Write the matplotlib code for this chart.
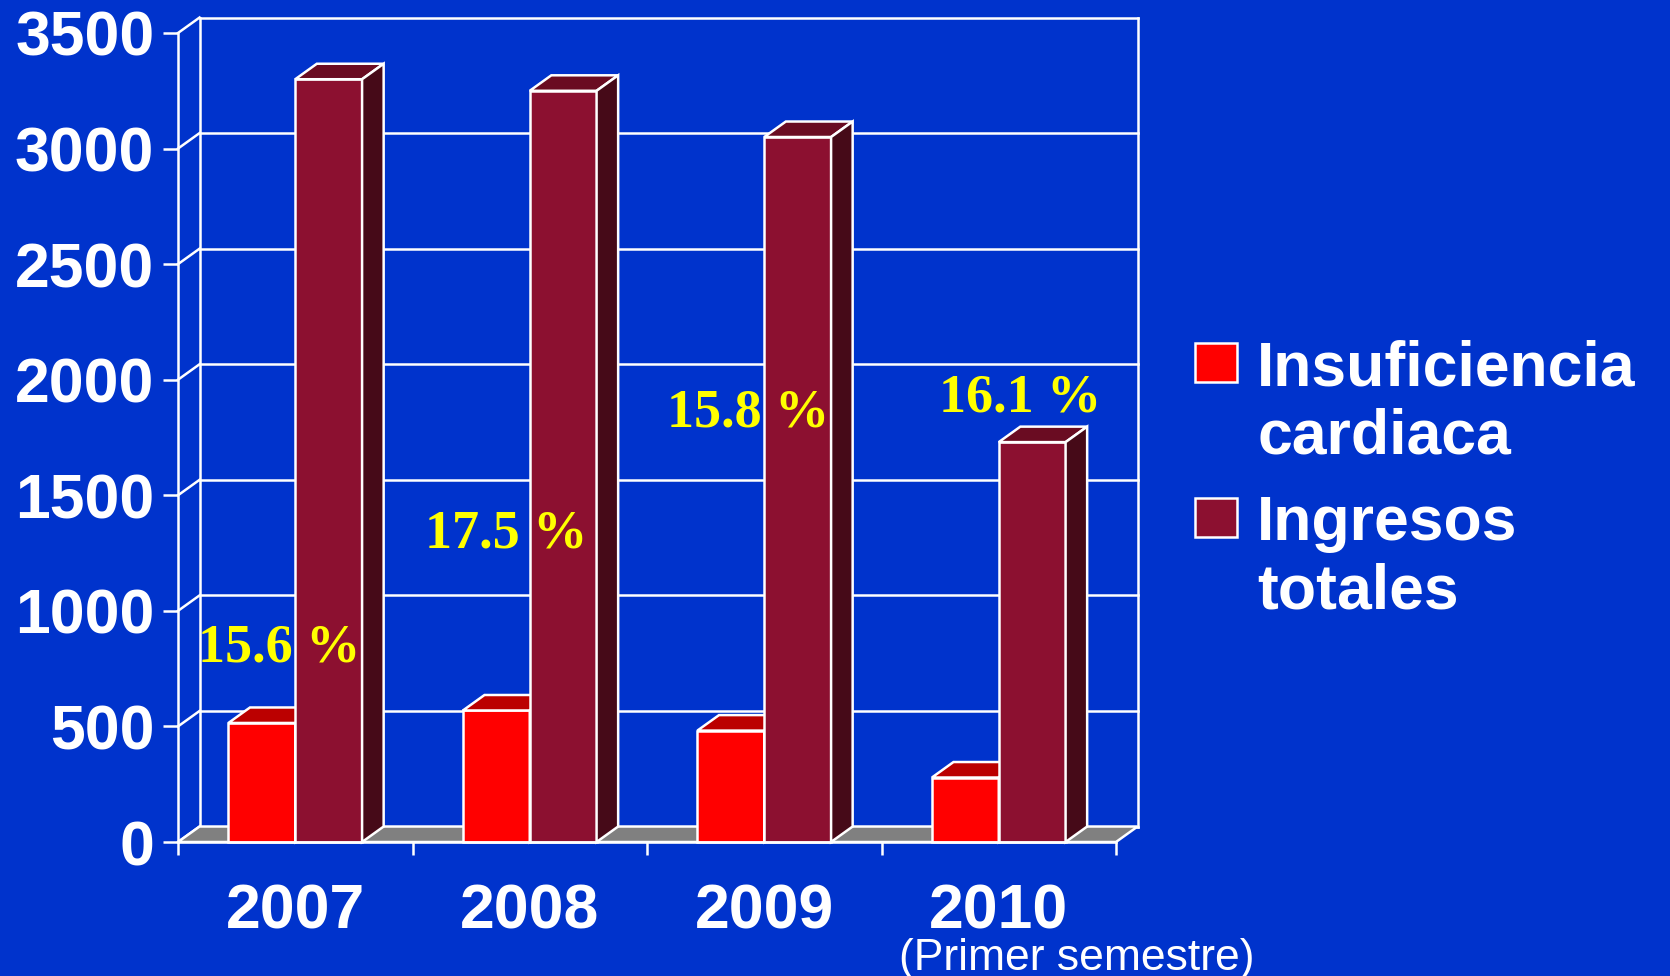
import numpy as np
import matplotlib.pyplot as plt
from matplotlib.patches import Polygon, Rectangle

years = ['2007', '2008', '2009', '2010']
insuficiencia = [515, 569, 482, 279]
ingresos = [3300, 3250, 3050, 1730]
yticks = [0, 500, 1000, 1500, 2000, 2500, 3000, 3500]
series_names = ['Insuficiencia\ncardiaca', 'Ingresos\ntotales']

# where the percentage labels sit (x offset from group centre, baseline y)
label_dx = [-0.07, -0.10, -0.07, 0.09]
label_y = [779, 1272, 1796, 1861]

BG = '#0033CC'
WHITE = 'white'
RED = ('#FF0000', '#BB0000', '#990000')        # front, top, side
MAROON = ('#8C1030', '#6A0C22', '#460A18')
FLOOR = '#808080'

DX, DY = 0.092, 67   # depth of the fake 3d box, in data units
W = 0.285            # bar width
LW = 1.8

plt.rcParams['font.family'] = ['Liberation Sans', 'DejaVu Sans']

fig = plt.figure(figsize=(16.7, 9.76), dpi=100, facecolor=BG)
ax = fig.add_axes([178 / 1670, 134 / 976, 938 / 1670, 809 / 976])
ax.set_facecolor('none')
ax.set_xlim(-0.5, 3.5)
ax.set_ylim(0, 3500)

x = np.arange(len(years))
x0, x1 = -0.5, len(years) - 0.5

# back wall + gridlines
for v in yticks:
    ax.plot([x0 + DX, x1 + DX], [v + DY, v + DY], color=WHITE, lw=LW, clip_on=False, zorder=1)
    ax.plot([x0, x0 + DX], [v, v + DY], color=WHITE, lw=LW, clip_on=False, zorder=1)
ax.plot([x0 + DX, x0 + DX], [DY, yticks[-1] + DY], color=WHITE, lw=LW, clip_on=False, zorder=1)
ax.plot([x1 + DX, x1 + DX], [DY, yticks[-1] + DY], color=WHITE, lw=LW, clip_on=False, zorder=1)

# floor
ax.add_patch(Polygon([(x0, 0), (x1, 0), (x1 + DX, DY), (x0 + DX, DY)], closed=True,
                     facecolor=FLOOR, edgecolor=WHITE, lw=LW, clip_on=False, zorder=2))


def bars3d(xs, heights, colors, z):
    front, top, side = colors
    bars = ax.bar(xs, heights, width=W, color=front, edgecolor=WHITE, lw=LW, zorder=z, clip_on=False)
    for b in bars:
        l, r, h = b.get_x(), b.get_x() + b.get_width(), b.get_height()
        ax.add_patch(Polygon([(l, h), (r, h), (r + DX, h + DY), (l + DX, h + DY)], closed=True,
                             facecolor=top, edgecolor=WHITE, lw=LW, zorder=z, clip_on=False))
        ax.add_patch(Polygon([(r, 0), (r + DX, DY), (r + DX, h + DY), (r, h)], closed=True,
                             facecolor=side, edgecolor=WHITE, lw=LW, zorder=z, clip_on=False))


bars3d(x - W / 2, insuficiencia, RED, 3)
bars3d(x + W / 2, ingresos, MAROON, 4)

# percentage of admissions due to heart failure
for i in range(len(years)):
    pct = 100 * insuficiencia[i] / ingresos[i]
    ax.text(x[i] + label_dx[i], label_y[i], f'{pct:.1f} %', color='#FFFF00', fontsize=39,
            fontweight='bold', family=['Liberation Serif', 'DejaVu Serif'],
            ha='center', va='baseline', zorder=10)

# axes
for s in ['top', 'right']:
    ax.spines[s].set_visible(False)
for s in ['left', 'bottom']:
    ax.spines[s].set_color(WHITE)
    ax.spines[s].set_linewidth(LW)
    ax.spines[s].set_zorder(5)

ax.set_yticks(yticks)
ax.set_yticklabels([str(v) for v in yticks], fontsize=45, fontweight='bold', color=WHITE)
ax.tick_params(axis='y', length=11, width=LW, color=WHITE, pad=6)

ax.set_xticks(np.arange(len(years) + 1) - 0.5)
ax.set_xticklabels([])
ax.tick_params(axis='x', which='major', length=9, width=LW, color=WHITE)
ax.set_xticks(x, minor=True)
ax.set_xticklabels(years, minor=True, fontsize=45, fontweight='bold', color=WHITE)
ax.tick_params(axis='x', which='minor', length=0, pad=29)

fig.text(1077 / 1670, 6 / 976, '(Primer semestre)', color=WHITE, fontsize=32,
         ha='center', va='baseline')

# legend
for (name, col), top in zip(zip(series_names, [RED[0], MAROON[0]]), [342, 497]):
    fig.patches.append(Rectangle((1195 / 1670, (976 - top - 40) / 976), 42 / 1670, 39 / 976,
                                 transform=fig.transFigure, facecolor=col, edgecolor=WHITE, lw=LW))
    fig.text(1257 / 1670, (976 - top + 3) / 976, name, color=WHITE, fontsize=45,
             fontweight='bold', ha='left', va='top', linespacing=1.2)

fig.savefig('out.png', dpi=100, facecolor=BG)
